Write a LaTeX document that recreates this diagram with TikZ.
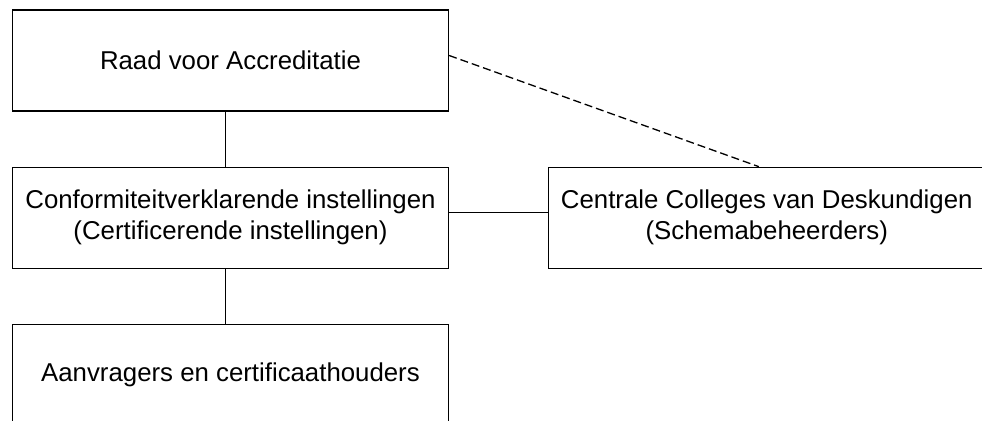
\documentclass[tikz,border=0pt]{standalone}
\usepackage{fontspec}
\setmainfont{Liberation Sans}
\usetikzlibrary{positioning}

\begin{document}
\begin{tikzpicture}[x=0.5pt, y=-0.5pt, node distance=27.5pt and 49.5pt,
  box/.style={draw,line width=0.65pt,minimum width=218pt,minimum height=50.5pt,inner sep=0pt,align=center,font=\fontsize{12.9}{15.5}\selectfont},
  link/.style={line width=0.65pt}]
  \useasboundingbox (0,0) rectangle (982,421);
  \node[box] (raad) at (230.5,60.5) {Raad voor Accreditatie};
  \node[box, below=of raad] (conform) {Conformiteitverklarende instellingen\\(Certificerende instellingen)};
  \node[box, right=of conform] (ccvd) {Centrale Colleges van Deskundigen\\(Schemabeheerders)};
  \node[box, below=of conform] (aanvr) {Aanvragers en certificaathouders};
  \draw[link] ([xshift=-2.5pt]raad.south) -- ([xshift=-2.5pt]conform.north);
  \draw[link] ([xshift=-2.5pt]conform.south) -- ([xshift=-2.5pt]aanvr.north);
  \draw[link] ([yshift=2.5pt]conform.east) -- ([yshift=2.5pt]ccvd.west);
  \draw[link, dash pattern=on 4pt off 2pt] ([yshift=2.5pt]raad.east) -- ([xshift=-4pt]ccvd.north);
\end{tikzpicture}
\end{document}
